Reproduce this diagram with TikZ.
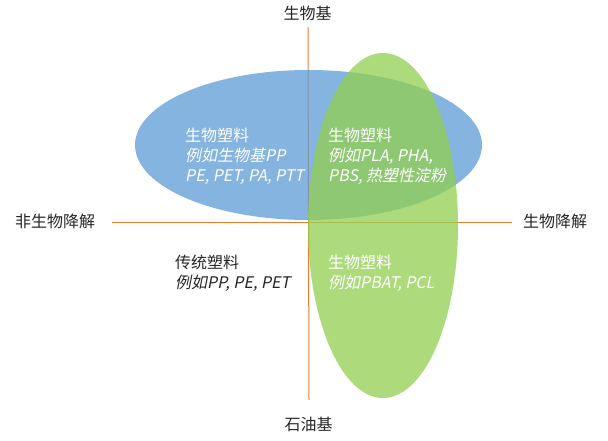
\documentclass[tikz,border=0pt]{standalone}
\usepackage{fontspec}
\setmainfont{Noto Sans CJK SC}[ItalicFont=Noto Sans CJK SC, ItalicFeatures={FakeSlant=0.2}]
\usetikzlibrary{shapes.geometric}
\definecolor{axisorange}{HTML}{ED7D31}
\definecolor{bluefill}{HTML}{5B9BD5}
\definecolor{greenfill}{HTML}{92D050}
\definecolor{labelgray}{HTML}{262626}
\tikzset{
  axisline/.style={draw=axisorange, line width=1pt},
  blob/.style={ellipse, inner sep=0pt, fill opacity=0.75},
  lbl/.style={inner sep=0pt, anchor=base west, font=\fontsize{16}{16}\selectfont},
  axislbl/.style={inner sep=0pt, anchor=base, font=\fontsize{16}{16}\selectfont, text=labelgray},
  inw/.style={lbl, text=white},
  ink/.style={lbl, text=labelgray}
}
\begin{document}
\begin{tikzpicture}[x=1pt,y=-1pt]
\useasboundingbox (0,0) rectangle (608,440);
\fill[white] (0,0) rectangle (608,440);
% axes
\coordinate (top) at (308,27);
\coordinate (bottom) at (309,400);
\coordinate (left) at (112,222.5);
\coordinate (right) at (512,222.5);
\draw[axisline] (top) -- (bottom);
\draw[axisline] (left) -- (right);
% ellipses
\node[blob, fill=bluefill, minimum width=347pt, minimum height=150pt] (blue) at (308.5,145) {};
\node[blob, fill=greenfill, minimum width=150pt, minimum height=345pt] (green) at (383,225.5) {};
% axis labels
\node[axislbl] (lbltop) at (307.5,19.5) {生物基};
\node[axislbl] (lblbottom) at (308.5,430) {石油基};
\node[axislbl, anchor=base west] (lblleft) at (15,227.5) {非生物降解};
\node[axislbl, anchor=base west] (lblright) at (523,227.5) {生物降解};
% quadrant texts
\node[inw] (a1) at (185,141) {生物塑料};
\node[inw] (a2) at (185,161.5) {\itshape 例如生物基PP};
\node[inw] (a3) at (185,181) {\itshape PE, PET, PA, PTT};
\node[inw] (b1) at (328,141) {生物塑料};
\node[inw] (b2) at (328,161.5) {\itshape 例如PLA, PHA,};
\node[inw] (b3) at (328,181) {\itshape PBS, 热塑性淀粉};
\node[ink] (c1) at (175,268) {传统塑料};
\node[ink] (c2) at (175,288) {\itshape 例如PP, PE, PET};
\node[inw] (d1) at (328,268) {生物塑料};
\node[inw] (d2) at (328,288) {\itshape 例如PBAT, PCL};
\end{tikzpicture}
\end{document}
